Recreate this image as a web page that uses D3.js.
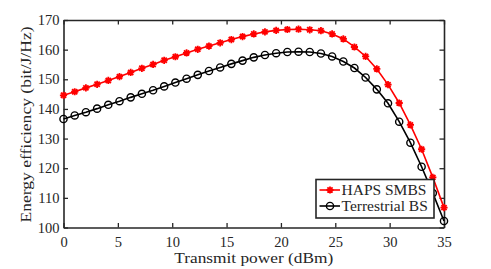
<!DOCTYPE html>
<html>
<head>
<meta charset="utf-8">
<script src="https://cdn.jsdelivr.net/npm/d3@7"></script>
<style>
  html, body { margin: 0; padding: 0; background: #fff; }
  #chart svg, #chart svg text, #chart svg g {
    font-family: "Liberation Serif", "Times New Roman", Times, serif !important;
  }
</style>
</head>
<body>
<div id="chart"></div>
<script>
// transmit power samples (35 points between 0 and 35 dBm)
const powerDbm = [0, 1.03, 2.06, 3.09, 4.12, 5.15, 6.18, 7.21, 8.24, 9.26, 10.29, 11.32,
  12.35, 13.38, 14.41, 15.44, 16.47, 17.5, 18.53, 19.56, 20.59, 21.62, 22.65, 23.68,
  24.71, 25.74, 26.76, 27.79, 28.82, 29.85, 30.88, 31.91, 32.94, 33.97, 35];

// energy efficiency
const hapsSmbs = [144.6, 145.8, 147.1, 148.3, 149.6, 150.9, 152.3, 153.7, 155.0, 156.4,
  157.6, 158.9, 160.1, 161.2, 162.3, 163.4, 164.4, 165.3, 166.0, 166.5, 166.8, 166.9,
  166.7, 166.4, 165.3, 163.6, 160.9, 157.7, 153.5, 148.2, 142.0, 134.6, 126.4, 116.9, 106.7];
const terrestrialBs = [136.6, 137.8, 138.9, 140.1, 141.4, 142.6, 143.9, 145.1, 146.3, 147.6,
  148.9, 150.2, 151.5, 152.8, 154.0, 155.2, 156.3, 157.4, 158.2, 158.8, 159.2, 159.3,
  159.2, 158.7, 157.7, 156.0, 153.8, 150.6, 146.6, 141.9, 135.7, 128.6, 120.5, 111.6, 102.2];

const seriesNames = ['HAPS SMBS', 'Terrestrial BS'];
const xTicks = [0, 5, 10, 15, 20, 25, 30, 35];
const yTicks = [100, 110, 120, 130, 140, 150, 160, 170];

const width = 491, height = 269;
const axisColor = '#262626';

const svg = d3.select('#chart')
  .append('svg')
  .attr('width', width)
  .attr('height', height);

// plot box
const plotLeft = 63.5, plotRight = 444, plotTop = 20, plotBottom = 227.5;

const x = d3.scaleLinear().domain([0, 35]).range([plotLeft, plotRight]);
const y = d3.scaleLinear().domain([100, 170]).range([plotBottom, plotTop]);

// axes with inward ticks, the top/right ones carry no labels
function styleAxis(g) {
  g.attr('font-family', null);
  g.select('.domain').attr('stroke', axisColor).attr('stroke-width', 1.6);
  g.selectAll('.tick line').attr('stroke', axisColor).attr('stroke-width', 1.3);
  g.selectAll('.tick text')
    .attr('font-size', 14.5)
    .attr('fill', axisColor);
}

svg.append('g')
  .attr('transform', `translate(0,${plotBottom})`)
  .call(d3.axisBottom(x).tickValues(xTicks).tickSize(-4.5).tickSizeOuter(0).tickPadding(9))
  .call(styleAxis);

svg.append('g')
  .attr('transform', `translate(0,${plotTop})`)
  .call(d3.axisTop(x).tickValues(xTicks).tickSize(-4.5).tickSizeOuter(0).tickFormat(''))
  .call(styleAxis);

svg.append('g')
  .attr('transform', `translate(${plotLeft},0)`)
  .call(d3.axisLeft(y).tickValues(yTicks).tickSize(-4.5).tickSizeOuter(0).tickPadding(4))
  .call(styleAxis);

svg.append('g')
  .attr('transform', `translate(${plotRight},0)`)
  .call(d3.axisRight(y).tickValues(yTicks).tickSize(-4.5).tickSizeOuter(0).tickFormat(''))
  .call(styleAxis);

// axis titles (stretched a bit, the original font is wider)
svg.append('text')
  .attr('x', (plotLeft + plotRight) / 2)
  .attr('y', 262.5)
  .attr('text-anchor', 'middle')
  .attr('font-size', 15.5)
  .attr('fill', axisColor)
  .attr('textLength', 159)
  .attr('lengthAdjust', 'spacingAndGlyphs')
  .text('Transmit power (dBm)');

svg.append('text')
  .attr('transform', `translate(31,124.5) rotate(-90)`)
  .attr('text-anchor', 'middle')
  .attr('font-size', 15.5)
  .attr('fill', axisColor)
  .attr('textLength', 196)
  .attr('lengthAdjust', 'spacingAndGlyphs')
  .text('Energy efficiency (bit/J/Hz)');

// marker shapes: matlab style asterisk and open circle
const starPath = (r) => {
  const d = r * 0.72;
  return `M${-r},0L${r},0M0,${-r}L0,${r}M${-d},${-d}L${d},${d}M${-d},${d}L${d},${-d}`;
};

const series = [
  { name: seriesNames[0], values: hapsSmbs, color: '#ff0000', marker: 'star' },
  { name: seriesNames[1], values: terrestrialBs, color: '#000000', marker: 'circle' },
];

const line = d3.line()
  .x((d) => x(d[0]))
  .y((d) => y(d[1]));

function drawMarker(g, kind, color) {
  if (kind === 'star') {
    g.append('path')
      .attr('d', starPath(3.6))
      .attr('stroke', color)
      .attr('stroke-width', 1.8)
      .attr('fill', 'none');
  } else {
    g.append('circle')
      .attr('r', 3.6)
      .attr('stroke', color)
      .attr('stroke-width', 1.4)
      .attr('fill', 'none');
  }
}

series.forEach((s) => {
  const pts = powerDbm.map((p, i) => [p, s.values[i]]);

  svg.append('path')
    .datum(pts)
    .attr('d', line)
    .attr('fill', 'none')
    .attr('stroke', s.color)
    .attr('stroke-width', 1.6);

  svg.append('g')
    .selectAll('g')
    .data(pts)
    .join('g')
    .attr('transform', (d) => `translate(${x(d[0])},${y(d[1])})`)
    .each(function () {
      drawMarker(d3.select(this), s.marker, s.color);
    });
});

// legend box in the lower right corner
const legend = svg.append('g').attr('transform', 'translate(316,179.5)');

legend.append('rect')
  .attr('width', 118)
  .attr('height', 38.5)
  .attr('fill', '#fff')
  .attr('stroke', axisColor)
  .attr('stroke-width', 1.6);

series.forEach((s, i) => {
  const row = legend.append('g').attr('transform', `translate(0,${10.5 + i * 16})`);
  row.append('line')
    .attr('x1', 3.5)
    .attr('x2', 24)
    .attr('stroke', s.color)
    .attr('stroke-width', 1.6);
  const m = row.append('g').attr('transform', 'translate(14,0)');
  drawMarker(m, s.marker, s.color);
  row.append('text')
    .attr('x', 25.5)
    .attr('y', 5)
    .attr('font-size', 15.5)
    .attr('fill', axisColor)
    .text(s.name);
});
</script>
</body>
</html>
